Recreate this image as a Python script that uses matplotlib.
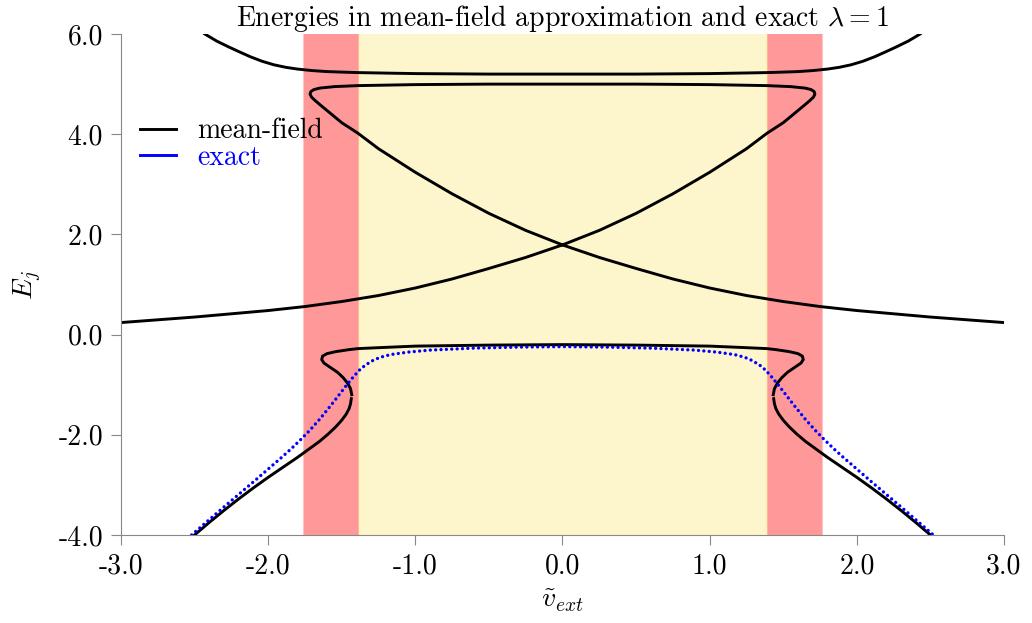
import matplotlib
matplotlib.use('agg')
import matplotlib.pyplot as plt
from matplotlib.ticker import FormatStrFormatter

plt.rcParams['font.family'] = 'serif'
plt.rcParams['font.serif'] = ['cmr10']
plt.rcParams['mathtext.fontset'] = 'cm'
plt.rcParams['axes.unicode_minus'] = False

# upper mean-field level
top_x = [-2.43, -2.35, -2.27, -2.20, -2.12, -2.04, -1.96, -1.88, -1.80, -1.70, -1.60, -1.50,
         -1.39, -1.20, -1.00, -0.50, 0.00, 0.50, 1.00, 1.20, 1.39, 1.50, 1.60, 1.70,
         1.80, 1.88, 1.96, 2.04, 2.12, 2.20, 2.27, 2.35, 2.43]
top_E = [6.00, 5.86, 5.745, 5.65, 5.545, 5.455, 5.385, 5.335, 5.30, 5.27, 5.25, 5.24,
         5.23, 5.22, 5.21, 5.20, 5.20, 5.20, 5.21, 5.22, 5.23, 5.24, 5.25, 5.27,
         5.30, 5.335, 5.385, 5.455, 5.545, 5.65, 5.745, 5.86, 6.00]

# crossing pair of mean-field levels, one continuous branch with two folds
cross_x = [-3.00, -2.50, -2.00, -1.75, -1.50, -1.25, -1.00, -0.75, -0.50, -0.25, 0.00, 0.25,
           0.50, 0.75, 1.00, 1.25, 1.39, 1.50, 1.57, 1.64, 1.68, 1.705, 1.715, 1.71, 1.69,
           1.65, 1.55, 1.39, 1.00, 0.50, 0.00, -0.50, -1.00, -1.39, -1.55, -1.65, -1.69,
           -1.71, -1.715, -1.705, -1.68, -1.64, -1.57, -1.50, -1.39, -1.25, -1.00, -0.75,
           -0.50, -0.25, 0.00, 0.25, 0.50, 0.75, 1.00, 1.25, 1.50, 1.75, 2.00, 2.50, 3.00]
cross_E = [0.24, 0.35, 0.48, 0.56, 0.66, 0.78, 0.93, 1.11, 1.32, 1.54, 1.79, 2.08,
           2.42, 2.81, 3.24, 3.71, 4.02, 4.23, 4.40, 4.57, 4.67, 4.74, 4.80, 4.85, 4.89,
           4.92, 4.95, 4.97, 4.99, 5.00, 5.00, 5.00, 4.99, 4.97, 4.95, 4.92, 4.89,
           4.85, 4.80, 4.74, 4.67, 4.57, 4.40, 4.23, 4.02, 3.71, 3.24, 2.81,
           2.42, 2.08, 1.79, 1.54, 1.32, 1.11, 0.93, 0.78, 0.66, 0.56, 0.48, 0.35, 0.24]

# lowest mean-field level, three pieces (the solver drops points at the folds)
low_left_x = [-2.50, -2.40, -2.30, -2.20, -2.10, -2.00, -1.90, -1.80, -1.72, -1.65, -1.59,
              -1.54, -1.50, -1.47, -1.45, -1.44, -1.435]
low_left_E = [-4.00, -3.75, -3.51, -3.28, -3.06, -2.85, -2.65, -2.45, -2.28, -2.13, -1.98,
              -1.84, -1.71, -1.59, -1.48, -1.38, -1.28]
low_mid_x = [-1.432, -1.44, -1.46, -1.49, -1.53, -1.58, -1.62, -1.636, -1.63, -1.60, -1.54, -1.45,
             -1.39, -1.24, -1.00, -0.50, 0.00, 0.50, 1.00, 1.24, 1.39, 1.45, 1.54, 1.60,
             1.63, 1.636, 1.62, 1.58, 1.53, 1.49, 1.46, 1.44, 1.432]
low_mid_E = [-1.20, -1.08, -0.97, -0.86, -0.75, -0.65, -0.57, -0.50, -0.43, -0.38, -0.34, -0.30,
             -0.28, -0.26, -0.23, -0.21, -0.20, -0.21, -0.23, -0.26, -0.28, -0.30, -0.34, -0.38,
             -0.43, -0.50, -0.57, -0.65, -0.75, -0.86, -0.97, -1.08, -1.20]
low_right_x = [1.435, 1.44, 1.45, 1.47, 1.50, 1.54, 1.59, 1.65, 1.72, 1.80, 1.90, 2.00,
               2.10, 2.20, 2.30, 2.40, 2.50]
low_right_E = [-1.28, -1.38, -1.48, -1.59, -1.71, -1.84, -1.98, -2.13, -2.28, -2.45, -2.65, -2.85,
               -3.06, -3.28, -3.51, -3.75, -4.00]

# exact ground state
exact_x = [-2.52, -2.30, -2.10, -1.90, -1.84, -1.78, -1.72, -1.65, -1.57, -1.52, -1.47, -1.42,
           -1.38, -1.34, -1.29, -1.24, -1.17, -1.05, -0.90, -0.60, -0.30, 0.00,
           0.30, 0.60, 0.90, 1.05, 1.17, 1.24, 1.29, 1.34, 1.38, 1.42, 1.47, 1.52,
           1.57, 1.65, 1.72, 1.78, 1.84, 1.90, 2.10, 2.30, 2.52]
exact_E = [-4.00, -3.44, -2.94, -2.43, -2.27, -2.10, -1.92, -1.69, -1.40, -1.21, -1.02, -0.84,
           -0.71, -0.61, -0.52, -0.455, -0.40, -0.35, -0.31, -0.27, -0.25, -0.24,
           -0.25, -0.27, -0.31, -0.35, -0.40, -0.455, -0.52, -0.61, -0.71, -0.84, -1.02, -1.21,
           -1.40, -1.69, -1.92, -2.10, -2.27, -2.43, -2.94, -3.44, -4.00]

# regions of v_ext
inner_edge = 1.39
outer_edge = 1.76

fig = plt.figure(figsize=(10.32, 6.23), dpi=100)
ax = fig.add_axes([0.1172, 0.1413, 0.8557, 0.8041])

ax.axvspan(-outer_edge, -inner_edge, color='#ff9898', lw=0, zorder=0)
ax.axvspan(inner_edge, outer_edge, color='#ff9898', lw=0, zorder=0)
ax.axvspan(-inner_edge, inner_edge, color='#fdf5cc', lw=0, zorder=0)
for xe in (-outer_edge, outer_edge):
    ax.axvline(xe, color='#ffc4c4', lw=0.8, zorder=0.5)
for xe in (-inner_edge, inner_edge):
    ax.axvline(xe, color='#ffb888', lw=0.8, zorder=0.5)

lw = 2.1
ax.plot(top_x, top_E, color='black', lw=lw, label='mean-field')
ax.plot(cross_x, cross_E, color='black', lw=lw)
ax.plot(low_left_x, low_left_E, color='black', lw=lw)
ax.plot(low_mid_x, low_mid_E, color='black', lw=lw)
ax.plot(low_right_x, low_right_E, color='black', lw=lw)
ax.plot(exact_x, exact_E, color='blue', lw=2.4, ls=(0, (0.01, 1.6)),
        dash_capstyle='round')
ax.plot([], [], color='blue', lw=lw, label='exact')

ax.set_xlim(-3, 3)
ax.set_ylim(-4, 6)
ax.set_xticks([-3, -2, -1, 0, 1, 2, 3])
ax.set_yticks([-4, -2, 0, 2, 4, 6])
ax.xaxis.set_major_formatter(FormatStrFormatter('%.1f'))
ax.yaxis.set_major_formatter(FormatStrFormatter('%.1f'))
for s in ['top', 'right']:
    ax.spines[s].set_visible(False)
for s in ['left', 'bottom']:
    ax.spines[s].set_color('#888888')
ax.tick_params(colors='#888888', labelcolor='black', labelsize=20, length=7, pad=6)

ax.set_title('Energies in mean-field approximation and exact $\\lambda = 1$', fontsize=20, pad=4)
ax.set_xlabel('$\\tilde{v}_{ext}$', fontsize=20, labelpad=6)
ax.set_ylabel('$E_j$', fontsize=20, labelpad=10)

leg = ax.legend(loc='upper left', bbox_to_anchor=(0.006, 0.86), frameon=False, fontsize=20,
                handlelength=1.3, handletextpad=0.75, labelspacing=0.0, borderpad=0)
leg.get_texts()[1].set_color('blue')

fig.savefig('out.png', dpi=100)
